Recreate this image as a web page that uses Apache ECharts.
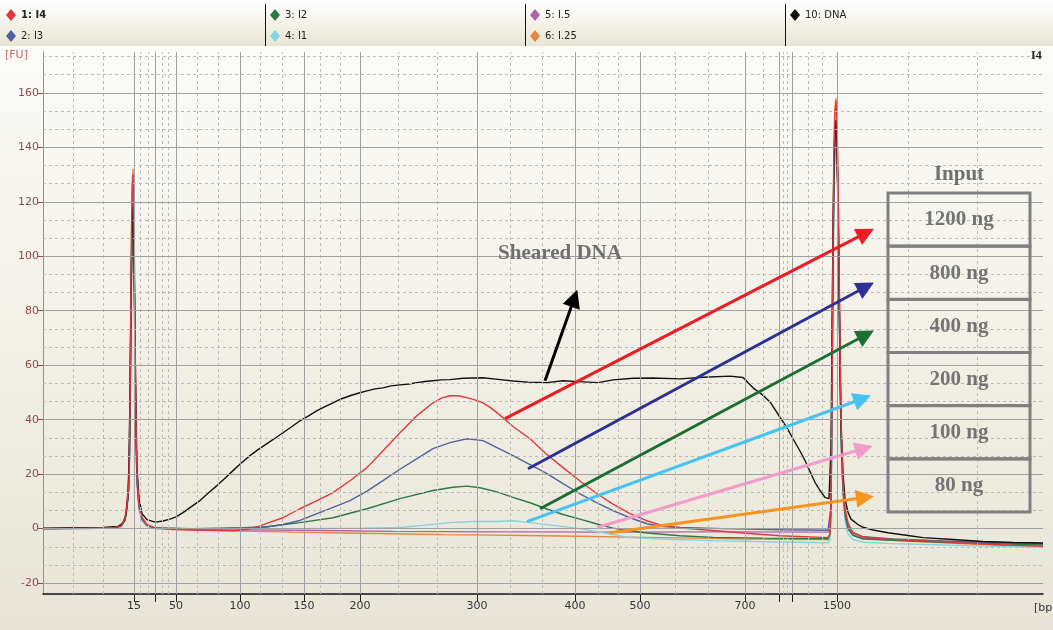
<!DOCTYPE html>
<html><head><meta charset="utf-8">
<script src="https://cdn.jsdelivr.net/npm/echarts@6/dist/echarts.min.js"></script>
<style>html,body{margin:0;padding:0;background:#fff}#c{width:1053px;height:630px}</style>
</head><body><div id="c"></div>
<script>
// x axis is migration position (arbitrary units); bp ladder maps positions to sizes
const ladderBp = [15, 50, 100, 150, 200, 300, 400, 500, 700, 1500];
const ladderPos = [91, 133, 197, 261, 317, 434, 532, 597, 702, 794];
const extraTickPos = [112, 736, 749];
const minorGridPos = [30, 60, 97, 105, 119, 125, 154, 175, 217, 239, 277, 297, 355, 394, 467, 499, 555, 575, 632, 665, 720, 740, 744, 765, 779, 865, 934];
const yLabelValues = [-20, 0, 20, 40, 60, 80, 100, 120, 140, 160];
const yMinorValues = [-13.33, -6.67, 6.67, 13.33, 26.67, 33.33, 46.67, 53.33, 66.67, 73.33, 86.67, 93.33, 106.67, 113.33, 126.67, 133.33, 146.67, 153.33, 166.67, 173.33];

const seriesNames = ['1: I4', '2: I3', '3: I2', '4: I1', '5: I.5', '6: I.25', '10: DNA'];
const seriesColors = ['#e4363b', '#52609f', '#2a7a48', '#86d3e2', '#b062a8', '#e8843e', '#111111'];

const dnaData = [[0,0.2],[30,0.3],[60,0.4],[75,0.8],[80,2],[83,5],[85,12],[86,25],[87,50],[88,85],[89,110],[90,118],[91,102],[92,70],[93,40],[94,22],[96,11],[99,5.5],[104,3.3],[112,2.4],[120,2.8],[127,3.5],[133,4.3],[140,5.9],[148,8],[157,10.3],[165,13],[174,15.8],[182,18.5],[190,21.3],[198,24],[207,26.8],[215,29],[224,31.2],[232,33.2],[240,35.2],[249,37.5],[257,39.6],[266,41.5],[274,43.3],[282,44.8],[290,46.2],[298,47.6],[307,48.8],[316,49.8],[324,50.6],[332,51.3],[340,51.7],[348,52.4],[357,52.8],[366,53.1],[374,53.6],[382,54],[390,54.3],[398,54.6],[407,54.7],[420,55.2],[440,55.4],[455,54.8],[470,54.2],[485,53.8],[504,53.6],[520,54.3],[540,53.9],[555,53.6],[570,54.6],[590,55.2],[610,55.3],[637,55],[660,55.6],[687,56],[700,55.5],[710,51.7],[720,49],[727,46.5],[735,42],[744,37],[750,33],[757,28.5],[762,25],[767,21],[772,17],[777,14],[782,11.5],[786,11],[788,30],[789,70],[790,110],[791,135],[792,148],[793,150],[794,140],[795,120],[796,90],[797,62],[798,38],[800,20],[802,11],[805,6],[808,3.5],[815,1.5],[820,0.5],[830,-0.5],[845,-1.5],[865,-2.5],[880,-3.3],[910,-4],[940,-4.7],[970,-5.1],[1000,-5.3]];
const i4Data = [[0,0],[40,0.2],[70,0.3],[78,1],[82,3.5],[84,9],[86,18],[87,45],[88,90],[89,122],[90,130],[91,112],[92,72],[93,38],[94,20],[96,9],[99,4],[104,1.5],[112,0.3],[130,-0.3],[160,-0.6],[190,-0.8],[205,-0.3],[217,1],[228,2.5],[240,4],[257,7.3],[274,10.3],[290,13.2],[307,17.6],[324,22.4],[340,28.6],[357,35.2],[374,41.5],[390,46.2],[399,48],[407,48.8],[415,48.8],[424,48.1],[432,47.3],[440,46.2],[447,44.5],[454,42.6],[470,37.5],[487,33],[503,27.5],[520,22.4],[537,17.5],[554,12.8],[570,9],[587,5.5],[603,3],[620,1.1],[645,0],[670,-0.7],[700,-1.6],[737,-2.6],[785,-3.3],[787,-2],[788,10],[789,55],[790,105],[791,140],[792,152],[793,157],[794,150],[795,128],[796,98],[797,68],[798,40],[800,17],[802,7],[805,2],[810,-1.5],[820,-3],[840,-3.8],[870,-4.3],[910,-5],[950,-5.8],[1000,-6.5]];
const i3Data = [[0,0],[40,0.1],[70,0.3],[78,0.9],[82,3.2],[84,8],[86,17],[87,40],[88,82],[89,112],[90,120],[91,104],[92,66],[93,35],[94,18],[96,8],[99,3.5],[104,1.3],[112,0.3],[140,0],[180,0],[220,0.4],[240,1.5],[257,3],[274,5.5],[290,7.8],[307,10.3],[324,13.8],[340,17.6],[357,21.8],[374,25.7],[390,29.4],[407,31.6],[424,33],[440,32.3],[454,29.7],[470,26.8],[487,23.5],[504,20.2],[520,16.5],[537,12.8],[554,9.5],[570,6.6],[587,4],[604,1.8],[620,0.8],[637,0.4],[680,0],[740,-0.4],[785,-0.6],[787,0],[788,8],[789,50],[790,100],[791,132],[792,145],[793,148],[794,140],[795,120],[796,92],[797,62],[798,36],[800,15],[802,6],[805,1],[810,-1.5],[820,-3],[850,-3.8],[900,-4.5],[950,-5],[1000,-5.5]];
const i2Data = [[0,0],[40,0.1],[70,0.3],[78,0.9],[82,3],[84,8],[86,16],[87,38],[88,80],[89,110],[90,118],[91,100],[92,64],[93,34],[94,18],[96,8],[99,3.5],[104,1.2],[112,0.2],[150,0],[200,0.3],[224,0.7],[257,2.2],[290,4],[324,7.3],[357,11],[390,14],[410,15.2],[424,15.6],[437,15],[454,13.5],[470,11.5],[487,9.5],[504,7.2],[520,5.2],[537,3.5],[554,1.7],[570,0.2],[587,-0.8],[604,-1.6],[637,-2.6],[670,-3.2],[720,-3.5],[785,-3.7],[787,-2],[788,6],[789,45],[790,95],[791,128],[792,142],[793,146],[794,138],[795,118],[796,90],[797,60],[798,34],[800,14],[802,5],[805,0],[810,-2.5],[820,-3.8],[850,-4.3],[900,-5],[950,-5.5],[1000,-6]];
const i1Data = [[0,0],[40,0],[70,0.2],[78,0.8],[82,3],[84,7],[86,15],[87,35],[88,75],[89,105],[90,114],[91,96],[92,60],[93,32],[94,17],[96,7],[99,3],[104,1],[112,0.2],[150,0],[250,0],[320,0.2],[357,0.4],[380,1.2],[407,2.2],[430,2.6],[454,2.6],[470,2.9],[487,2.2],[510,1.2],[537,0],[560,-1.5],[587,-3.3],[630,-4],[670,-4.4],[720,-4.8],[785,-5.2],[787,-4],[788,4],[789,40],[790,90],[791,122],[792,138],[793,142],[794,134],[795,114],[796,86],[797,58],[798,32],[800,12],[802,3],[805,-2],[810,-4],[820,-5],[850,-5.5],[900,-6],[950,-6.5],[1000,-6.8]];
const i05Data = [[0,0],[40,0],[70,0.2],[78,0.8],[82,3],[84,7.5],[86,16],[87,38],[88,78],[89,108],[90,116],[91,98],[92,62],[93,33],[94,17],[96,7.5],[99,3],[104,1],[112,0],[150,-0.2],[200,-0.4],[250,-0.6],[300,-0.8],[350,-1],[400,-1.1],[450,-1.2],[500,-1.2],[550,-1.3],[600,-1.3],[650,-1.2],[700,-1.2],[785,-1.3],[787,0],[788,8],[789,48],[790,98],[791,130],[792,143],[793,147],[794,139],[795,118],[796,90],[797,60],[798,34],[800,14],[802,5],[805,0],[810,-2.5],[820,-3.5],[850,-4],[900,-4.6],[950,-5.2],[1000,-5.8]];
const i025Data = [[0,0],[40,0.1],[70,0.4],[78,1.2],[82,4],[84,10],[86,20],[87,48],[88,94],[89,126],[90,132],[91,114],[92,74],[93,40],[94,21],[96,9.5],[99,4.2],[104,1.5],[112,0.2],[150,-0.4],[200,-0.9],[250,-1.3],[300,-1.6],[350,-1.9],[400,-2.2],[450,-2.4],[500,-2.6],[550,-2.9],[600,-3.2],[650,-3.5],[700,-3.8],[785,-4],[787,-2],[788,12],[789,60],[790,110],[791,143],[792,155],[793,158],[794,151],[795,130],[796,100],[797,70],[798,42],[800,18],[802,8],[805,2],[810,-2],[820,-3.5],[850,-4.3],[900,-5.2],[950,-6],[1000,-6.6]];

// annotation arrows (from, to) in axis units
const arrowFrom = [[462,40.4],[485,22],[497,7.3],[484,2.6],[554,0.4],[567,-1.5],[502,54.3]];
const arrowTo   = [[823,108.6],[823,88.8],[823,71.2],[819.5,47.7],[821,29.4],[822,11.4],[531.3,84.6]];
const arrowColors = ['#ec1c24','#2e3192','#1b6e34','#45c3f2','#f39bc8','#f7941d','#000000'];
const boxLabels = ['1200 ng','800 ng','400 ng','200 ng','100 ng','80 ng'];

const chart = echarts.init(document.getElementById('c'));
const FONT = 'DejaVu Sans';
const SERIF = 'Liberation Serif';

const gridLines = [];
ladderPos.concat(extraTickPos).forEach(v => gridLines.push({xAxis: v, lineStyle: {color: '#a0a0a0', width: 1, type: 'solid'}}));
minorGridPos.forEach(v => gridLines.push({xAxis: v, lineStyle: {color: '#bbbbbb', width: 1, type: [3, 3]}}));
yLabelValues.forEach(v => gridLines.push({yAxis: v, lineStyle: {color: '#a0a0a0', width: 1, type: 'solid'}}));
yMinorValues.forEach(v => gridLines.push({yAxis: v, lineStyle: {color: '#bbbbbb', width: 1, type: [3, 3]}}));

const arrows = arrowFrom.map((f, i) => [
  {coord: f, symbol: 'none'},
  {coord: arrowTo[i], symbol: 'triangle', symbolSize: 18, lineStyle: {color: arrowColors[i], width: 3, type: 'solid'}, itemStyle: {color: arrowColors[i]}}
]);

const dataByName = {'1: I4': i4Data, '2: I3': i3Data, '3: I2': i2Data, '4: I1': i1Data, '5: I.5': i05Data, '6: I.25': i025Data, '10: DNA': dnaData};
const drawOrder = ['6: I.25', '5: I.5', '4: I1', '3: I2', '2: I3', '10: DNA', '1: I4'];

const lineSeries = drawOrder.map(n => ({
  name: n, type: 'line', data: dataByName[n], showSymbol: false, symbol: 'none',
  color: seriesColors[seriesNames.indexOf(n)],
  lineStyle: {width: 1.4, color: seriesColors[seriesNames.indexOf(n)]},
  z: 3, silent: true, animation: false
}));

const legendBase = {
  orient: 'vertical', icon: 'diamond', itemWidth: 10, itemHeight: 12, itemGap: 9, top: 9,
  textStyle: {fontFamily: FONT, fontSize: 10, color: '#222'}, selectedMode: false, padding: 0
};

const hdrGrad = new echarts.graphic.LinearGradient(0, 0, 0, 1, [{offset: 0, color: '#ffffff'}, {offset: 1, color: '#e9e5d4'}]);
const bgGrad = new echarts.graphic.LinearGradient(0, 0, 0, 1, [{offset: 0, color: '#fcfcfa'}, {offset: 0.5, color: '#f3f1e8'}, {offset: 1, color: '#e8e5d6'}]);

const graphics = [
  {type: 'rect', shape: {x: 0, y: 0, width: 1053, height: 630}, style: {fill: bgGrad}, z: -100, silent: true},
  {type: 'rect', shape: {x: 0, y: 0, width: 1053, height: 46}, style: {fill: hdrGrad}, z: -99, silent: true},
  {type: 'line', shape: {x1: 265.5, y1: 4, x2: 265.5, y2: 46}, style: {stroke: '#111', lineWidth: 1}, z: 10},
  {type: 'line', shape: {x1: 525.5, y1: 4, x2: 525.5, y2: 46}, style: {stroke: '#111', lineWidth: 1}, z: 10},
  {type: 'line', shape: {x1: 785.5, y1: 4, x2: 785.5, y2: 46}, style: {stroke: '#111', lineWidth: 1}, z: 10},
  {type: 'text', x: 5, y: 55, style: {text: '[FU]', fill: '#c26a6a', font: '11px ' + FONT, textVerticalAlign: 'middle'}, z: 10},
  {type: 'text', x: 1031, y: 56, style: {text: 'I4', fill: '#222', font: 'bold 12px ' + SERIF, textVerticalAlign: 'middle'}, z: 10},
  {type: 'text', x: 1034, y: 608, style: {text: '[bp', fill: '#333', font: '11px ' + FONT, textVerticalAlign: 'middle'}, z: 10},
  {type: 'text', x: 560, y: 254, style: {text: 'Sheared DNA', fill: '#707070', font: 'bold 21px ' + SERIF, textAlign: 'center', textVerticalAlign: 'middle'}, z: 50},
  {type: 'text', x: 959, y: 175, style: {text: 'Input', fill: '#707070', font: 'bold 21px ' + SERIF, textAlign: 'center', textVerticalAlign: 'middle'}, z: 50}
];
boxLabels.forEach((t, i) => {
  const y0 = 193 + i * 53.2;
  graphics.push({type: 'rect', shape: {x: 888, y: y0, width: 142, height: 53}, style: {fill: 'rgba(0,0,0,0)', stroke: '#808080', lineWidth: 3}, z: 50});
  graphics.push({type: 'text', x: 959, y: y0 + 27, style: {text: t, fill: '#747474', font: 'bold 21px ' + SERIF, textAlign: 'center', textVerticalAlign: 'middle'}, z: 51});
});

chart.setOption({
  animation: false,
  textStyle: {fontFamily: FONT},
  legend: [
    Object.assign({}, legendBase, {left: 6, data: [{name: '1: I4', textStyle: {fontWeight: 'bold'}}, '2: I3']}),
    Object.assign({}, legendBase, {left: 270, data: ['3: I2', '4: I1']}),
    Object.assign({}, legendBase, {left: 530, data: ['5: I.5', '6: I.25']}),
    Object.assign({}, legendBase, {left: 790, data: ['10: DNA']})
  ],
  grid: {left: 43, right: 10, top: 52, bottom: 36, containLabel: false},
  xAxis: {
    type: 'value', min: 0, max: 1000,
    axisLine: {onZero: false, lineStyle: {color: '#111', width: 1.5}},
    axisTick: {customValues: ladderPos.concat(extraTickPos), length: 8, lineStyle: {color: '#222'}},
    axisLabel: {customValues: ladderPos, color: '#333', fontSize: 11, fontFamily: FONT, margin: 7,
      formatter: v => String(ladderBp[ladderPos.indexOf(v)])},
    splitLine: {show: false}
  },
  yAxis: {
    type: 'value', min: -24, max: 175,
    axisLine: {show: true, onZero: false, lineStyle: {color: '#e07070', width: 1}},
    axisTick: {show: true, customValues: yLabelValues, length: 5, lineStyle: {color: '#8c4a4a'}},
    axisLabel: {customValues: yLabelValues, color: '#8c4a4a', fontSize: 11, fontFamily: FONT, margin: 4},
    splitLine: {show: false}
  },
  graphic: graphics,
  series: [
    {name: 'grid', type: 'line', data: [[0, 0]], symbol: 'none', lineStyle: {opacity: 0}, z: 1, silent: true,
      markLine: {silent: true, symbol: ['none', 'none'], label: {show: false}, animation: false, data: gridLines}},
    ...lineSeries,
    {name: 'arrows', type: 'line', data: [[0, 0]], symbol: 'none', lineStyle: {opacity: 0}, z: 20, silent: true,
      markLine: {silent: true, symbol: ['none', 'triangle'], symbolSize: 18, label: {show: false}, animation: false, data: arrows}}
  ]
});
</script>
</body></html>
